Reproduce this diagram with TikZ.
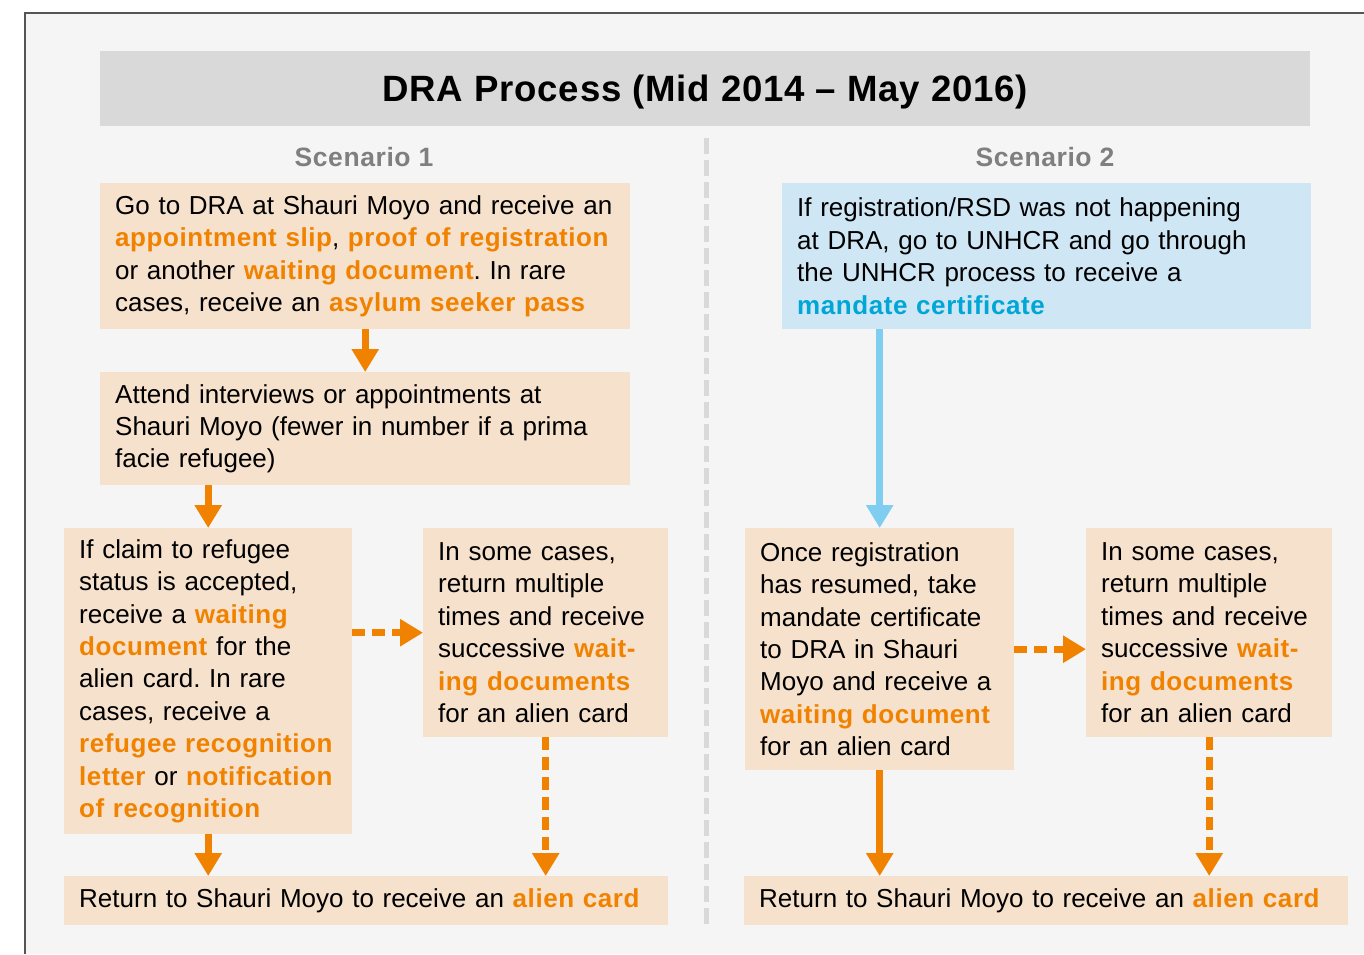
\documentclass[tikz,border=0pt]{standalone}
\usepackage{fontspec}
\setmainfont{Liberation Sans}[BoldFeatures={LetterSpace=2.2}]
\usetikzlibrary{arrows.meta}

\definecolor{peach}{HTML}{F6E1CD}
\definecolor{skyfill}{HTML}{CFE6F5}
\definecolor{cyantext}{HTML}{00A6D6}
\definecolor{skyarrow}{HTML}{80CDF2}
\definecolor{dorange}{HTML}{F08200}
\definecolor{pagegray}{HTML}{F5F5F5}
\definecolor{bandgray}{HTML}{D9D9D9}
\definecolor{labelgray}{HTML}{7F7F7F}
\definecolor{framegray}{HTML}{555555}

\newcommand{\hl}[1]{\textbf{\textcolor{dorange}{#1}}}
\newcommand{\bl}[1]{\textbf{\textcolor{cyantext}{#1}}}
\frenchspacing

\begin{document}
\begin{tikzpicture}[x=1pt,y=-1pt,
 step node/.style={fill=peach,inner xsep=15pt,inner ysep=0pt,align=left,
   anchor=north west,font=\fontsize{26}{32.4}\selectfont},
 flow arrow/.style={draw=dorange,line width=7pt,-{Triangle[width=26pt,length=23pt]}},
 dash arrow/.style={flow arrow,dash pattern=on 13pt off 7pt},
 sky arrow/.style={flow arrow,draw=skyarrow},
 scen node/.style={font=\fontsize{26.5}{32}\selectfont\bfseries,text=labelgray}]

  \useasboundingbox (0,0) rectangle (1364,954);
  \fill[pagegray] (25,13) rectangle (1364,954);
  \draw[framegray,line width=2pt] (25,954) -- (25,13) -- (1364,13);

  \node[fill=bandgray,minimum width=1210pt,minimum height=75pt,anchor=north west,
    font=\fontsize{36.6}{44}\selectfont\bfseries] (title) at (100,51)
    {\raisebox{-3pt}[\height][\depth]{DRA Process (Mid 2014 – May 2016)}};
  \node[scen node] (sc1) at (364,157) {Scenario 1};
  \node[scen node] (sc2) at (1045,157) {Scenario 2};
  \draw[bandgray,line width=5pt,dash pattern=on 16pt off 6pt] (706,138) -- (706,925);

  % scenario 1
  \node[step node,text width=500pt,minimum height=146pt] (a1) at (100,183)
    {Go to DRA at Shauri Moyo and receive an\\
     \hl{appointment slip}, \hl{proof of registration}\\
     or another \hl{waiting document}. In rare\\
     cases, receive an \hl{asylum seeker pass}};
  \node[step node,text width=500pt,minimum height=113pt] (a2) at (100,372)
    {Attend interviews or appointments at\\
     Shauri Moyo (fewer in number if a prima\\
     facie refugee)};
  \node[step node,text width=258pt,minimum height=306pt] (b1) at (64,528)
    {If claim to refugee\\
     status is accepted,\\
     receive a \hl{waiting}\\
     \hl{document} for the\\
     alien card. In rare\\
     cases, receive a\\
     \hl{refugee recognition}\\
     \hl{letter} or \hl{notification}\\
     \hl{of recognition}};
  \node[step node,text width=215pt,minimum height=209pt] (b2) at (423,528)
    {In some cases,\\
     return multiple\\
     times and receive\\
     successive \hl{wait-}\\
     \hl{ing documents}\\
     for an alien card};
  \node[step node,text width=574pt,minimum height=49pt] (c1) at (64,876)
    {Return to Shauri Moyo to receive an \hl{alien card}};

  % scenario 2
  \node[step node,fill=skyfill,text width=499pt,minimum height=146pt] (r1) at (782,183)
    {If registration/RSD was not happening\\
     at DRA, go to UNHCR and go through\\
     the UNHCR process to receive a\\
     \bl{mandate certificate}};
  \node[step node,text width=239pt,minimum height=242pt] (r2) at (745,528)
    {Once registration\\
     has resumed, take\\
     mandate certificate\\
     to DRA in Shauri\\
     Moyo and receive a\\
     \hl{waiting document}\\
     for an alien card};
  \node[step node,text width=216pt,minimum height=209pt] (r3) at (1086,528)
    {In some cases,\\
     return multiple\\
     times and receive\\
     successive \hl{wait-}\\
     \hl{ing documents}\\
     for an alien card};
  \node[step node,text width=574pt,minimum height=49pt] (c2) at (744,876)
    {Return to Shauri Moyo to receive an \hl{alien card}};

  \draw[flow arrow] (a1.south) -- (a2.north);
  \draw[flow arrow] (a2.south -| b1.north) -- (b1.north);
  \draw[dash arrow] (b1.east |- b2.west) -- (b2.west);
  \draw[sky arrow] (r1.south -| r2.north) -- (r2.north);
  \draw[dash arrow] (r2.east) -- (r2.east -| r3.west);
  \foreach \s/\t in {b1/c1, r2/c2} {
   \draw[flow arrow] (\s.south) -- (\s.south |- \t.north);}
  \foreach \s/\t in {b2/c1, r3/c2} {
   \draw[dash arrow] (\s.south) -- (\s.south |- \t.north);}
\end{tikzpicture}
\end{document}
